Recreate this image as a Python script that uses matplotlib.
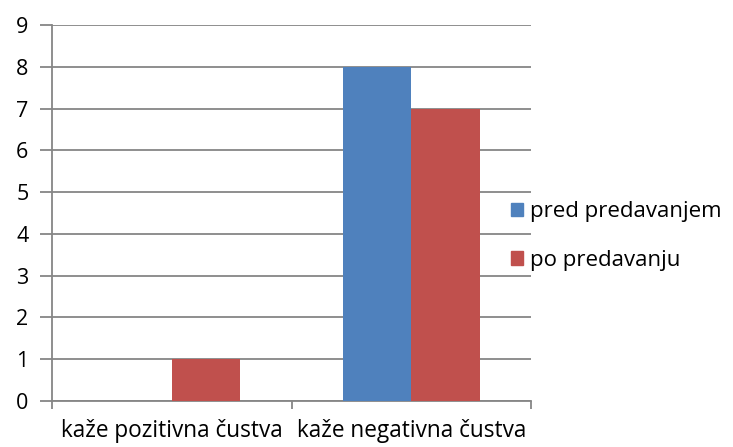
import numpy as np
import matplotlib.pyplot as plt
from matplotlib.patches import Patch

categories = ['kaže pozitivna čustva', 'kaže negativna čustva']
series_names = ['pred predavanjem', 'po predavanju']
pred = [0, 8]
po = [1, 7]
colors = ['#4F81BD', '#C0504D']

plt.rcParams['font.family'] = ['Open Sans', 'DejaVu Sans']

fig = plt.figure(figsize=(7.33, 4.47), dpi=100)
ax = fig.add_axes([52/733, 1 - 401/447, 479/733, 376/447])

x = np.arange(len(categories))
w = 1 / 3.5
ax.bar(x - w/2, pred, w, color=colors[0], zorder=3)
ax.bar(x + w/2, po, w, color=colors[1], zorder=3)

ax.set_xlim(-0.5, len(categories) - 0.5)
ax.set_ylim(0, 9)
ax.set_yticks(range(10))
ax.yaxis.grid(True, color='#868686', linewidth=1.3, zorder=0)
ax.tick_params(axis='y', length=9, width=1.3, color='#868686', labelsize=15.5, pad=8)

# category boundary ticks on x axis
ax.set_xticks(np.arange(-0.5, len(categories)), minor=False)
ax.set_xticklabels([])
ax.set_xticks(x, minor=True)
ax.set_xticklabels(categories, minor=True)
ax.tick_params(axis='x', which='major', length=6, width=1.3, color='#868686', direction='out')
ax.tick_params(axis='x', which='minor', length=0, labelsize=16.3, pad=13)

for s in ['top', 'right']:
    ax.spines[s].set_visible(False)
for s in ['left', 'bottom']:
    ax.spines[s].set_color('#868686')
    ax.spines[s].set_linewidth(1.3)

handles = [Patch(color=c) for c in colors]
fig.legend(handles, series_names, loc='center left', bbox_to_anchor=(500/733, 1 - 236/447),
           frameon=False, fontsize=16, handlelength=0.55, handleheight=0.55,
           handletextpad=0.3, labelspacing=1.25, borderpad=0)

fig.savefig('out.png', dpi=100)
